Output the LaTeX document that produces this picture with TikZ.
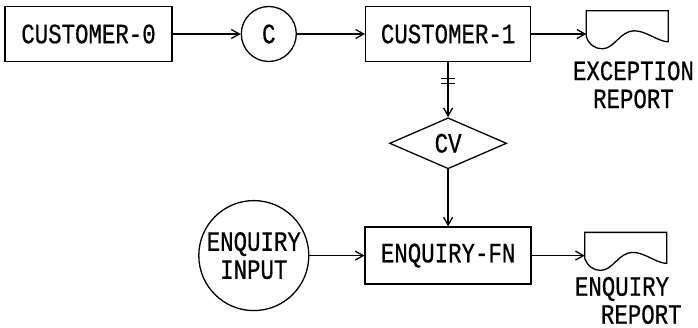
\documentclass[tikz,border=0pt]{standalone}
\usepackage{fontspec}
\newfontfamily\plotfont[FakeStretch=0.8,FakeBold=0.6]{Liberation Mono}
\usetikzlibrary{shapes.geometric,arrows.meta,positioning}

% output document symbol, drawn over a named placeholder node
\newcommand{\reportdoc}[1]{%
  \draw[line width=1.3pt,shift={(#1.north west)}] (82,0) -- (0,0) -- (0,26)
    .. controls (3,34) and (9,38) .. (16,38)
    .. controls (28,38) and (34,20) .. (48,20)
    .. controls (60,20) and (72,31) .. (82,31) -- cycle;}

\begin{document}
\begin{tikzpicture}[
  x=1pt,y=-1pt,
  node distance=55pt and 55pt,
  txt/.style={font=\fontsize{28}{28}\selectfont\plotfont},
  proc/.style={txt,draw,line width=1.3pt,minimum width=166pt,minimum height=55pt,inner sep=0pt},
  conn/.style={txt,draw,circle,line width=1.3pt,inner sep=0pt,align=center},
  dia/.style={txt,draw,diamond,line width=1.3pt,minimum width=117pt,minimum height=51pt,inner sep=0pt,shape aspect=2.3},
  report/.style={minimum width=82pt,minimum height=46pt,inner sep=0pt},
  rlabel/.style={txt,inner sep=0pt},
  ar/.style={line width=1.3pt,-{Straight Barb[length=8pt,width=9pt]}}
]
\useasboundingbox (0,0) rectangle (698,328);
\node[proc,minimum width=167pt] (cust0) at (88.5,34) {CUSTOMER-0};
\node[conn,minimum size=55pt,right=68pt of cust0] (c) {C};
\node[proc,minimum width=165pt,right=68pt of c] (cust1) {CUSTOMER-1};
\node[report,right=55pt of cust1] (exc) {};
\reportdoc{exc}
\node[rlabel,align=center,below=4pt of exc,xshift=6pt] (excl) {EXCEPTION\\REPORT};
\node[dia,below=of cust1] (cv) {CV};
\node[proc,minimum height=57pt,below=57pt of cv] (enq) {ENQUIRY-FN};
\node[conn,minimum size=110pt,left=of enq] (inp) {ENQUIRY\\INPUT};
\node[report,right=53pt of enq] (enqr) {};
\reportdoc{enqr}
\node[rlabel,align=left,anchor=north west] (enql) at ([xshift=-10pt,yshift=2pt]enqr.south west) {ENQUIRY\\\hspace*{26pt}REPORT};
\draw[ar] (cust0) -- (c);
\draw[ar] (c) -- (cust1);
\draw[ar] (cust1) -- (exc);
\draw[ar] (cust1) -- coordinate[pos=0.34] (tick) (cv);
\draw[line width=1.3pt] ([xshift=-7pt,yshift=-2.5pt]tick) -- ++(14,0)
  ([xshift=-7pt,yshift=2.5pt]tick) -- ++(14,0);
\draw[ar] (cv) -- (enq);
\draw[ar] (inp) -- (enq);
\draw[ar] (enq) -- (enqr);
\end{tikzpicture}
\end{document}
